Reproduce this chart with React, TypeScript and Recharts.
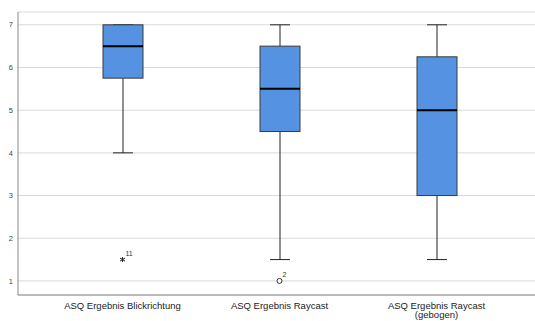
import { Bar, CartesianGrid, ComposedChart, Scatter, XAxis, YAxis } from "recharts";

const WIDTH = 535;
const HEIGHT = 321;
const BOX_FILL = "#5592e2";
const BOX_STROKE = "#3a3a3a";

const categories = [
  "ASQ Ergebnis Blickrichtung",
  "ASQ Ergebnis Raycast",
  "ASQ Ergebnis Raycast\n(gebogen)",
];
const whiskerLow = [4, 1.5, 1.5];
const quartile1 = [5.75, 4.5, 3];
const medians = [6.5, 5.5, 5];
const quartile3 = [7, 6.5, 6.25];
const whiskerHigh = [7, 7, 7];
const outlierValues = [1.5, 1, null];
const outlierCases = ["11", "2", null];
const outlierMarks = ["star", "circle", null];
const yTicks = [1, 2, 3, 4, 5, 6, 7];

const data = categories.map((name, i) => ({
  name,
  range: [whiskerLow[i], whiskerHigh[i]],
  low: whiskerLow[i],
  q1: quartile1[i],
  median: medians[i],
  q3: quartile3[i],
  high: whiskerHigh[i],
  outlier: outlierValues[i],
  caseId: outlierCases[i],
  mark: outlierMarks[i],
}));

// range bar gives us the pixel span of [low, high]; everything else is scaled off it
function BoxShape(props: any) {
  const { x, y, width, height, payload } = props;
  const top = Math.min(y, y + height);
  const span = Math.abs(height);
  const perUnit = span / (payload.high - payload.low || 1);
  const toY = (v: number) => top + (payload.high - v) * perUnit;
  const cx = x + width / 2;
  const cap = width / 4;

  return (
    <g>
      <line x1={cx} x2={cx} y1={toY(payload.high)} y2={toY(payload.q3)} stroke="#222" />
      <line x1={cx} x2={cx} y1={toY(payload.q1)} y2={toY(payload.low)} stroke="#222" />
      <line x1={cx - cap} x2={cx + cap} y1={toY(payload.high)} y2={toY(payload.high)} stroke="#222" />
      <line x1={cx - cap} x2={cx + cap} y1={toY(payload.low)} y2={toY(payload.low)} stroke="#222" />
      <rect
        x={x}
        y={toY(payload.q3)}
        width={width}
        height={toY(payload.q1) - toY(payload.q3)}
        fill={BOX_FILL}
        stroke={BOX_STROKE}
      />
      <line x1={x} x2={x + width} y1={toY(payload.median)} y2={toY(payload.median)} stroke="#000" strokeWidth={2} />
    </g>
  );
}

function OutlierShape(props: any) {
  const { cx, cy, payload } = props;
  if (payload.outlier == null || cx == null || cy == null) return <g />;
  const r = 2.5;
  return (
    <g>
      {payload.mark === "circle" ? (
        <circle cx={cx} cy={cy} r={r} fill="#fff" stroke="#333" />
      ) : (
        <g stroke="#222" strokeWidth={1}>
          <line x1={cx} x2={cx} y1={cy - r} y2={cy + r} />
          <line x1={cx - r} x2={cx + r} y1={cy - r * 0.6} y2={cy + r * 0.6} />
          <line x1={cx - r} x2={cx + r} y1={cy + r * 0.6} y2={cy - r * 0.6} />
        </g>
      )}
      <text x={cx + 3} y={cy - 4} fontSize={7} fill="#333" fontFamily="Liberation Sans, Arial, sans-serif">
        {payload.caseId}
      </text>
    </g>
  );
}

function CategoryTick(props: any) {
  const { x, y, payload } = props;
  const lines = String(payload.value).split("\n");
  return (
    <text
      x={x}
      y={y}
      textAnchor="middle"
      fontSize={9.5}
      fill="#222"
      fontFamily="Liberation Sans, Arial, sans-serif"
    >
      {lines.map((line, i) => (
        <tspan key={i} x={x} dy={i === 0 ? 5.5 : 9.5}>
          {line}
        </tspan>
      ))}
    </text>
  );
}

export default function App() {
  return (
    <div style={{ position: "absolute", left: 0, top: 0, background: "#fff" }}>
      <ComposedChart
        width={WIDTH}
        height={HEIGHT}
        data={data}
        margin={{ top: 12, right: 0, bottom: 0, left: 0 }}
      >
        <CartesianGrid vertical={false} stroke="#d9d9d9" />
        <XAxis
          dataKey="name"
          height={26}
          padding={{ left: 26, right: 20 }}
          tickLine={false}
          stroke="#888"
          tick={<CategoryTick />}
          interval={0}
        />
        <YAxis
          type="number"
          domain={[0.67, 7.3]}
          ticks={yTicks}
          width={18}
          tickLine={false}
          tickSize={0}
          tickMargin={5}
          stroke="#888"
          tick={{ fontSize: 7.5, fill: "#444", fontFamily: "Liberation Sans, Arial, sans-serif" }}
          allowDataOverflow
        />
        <Bar dataKey="range" barSize={40} shape={<BoxShape />} isAnimationActive={false} />
        <Scatter dataKey="outlier" shape={<OutlierShape />} isAnimationActive={false} />
      </ComposedChart>
    </div>
  );
}
